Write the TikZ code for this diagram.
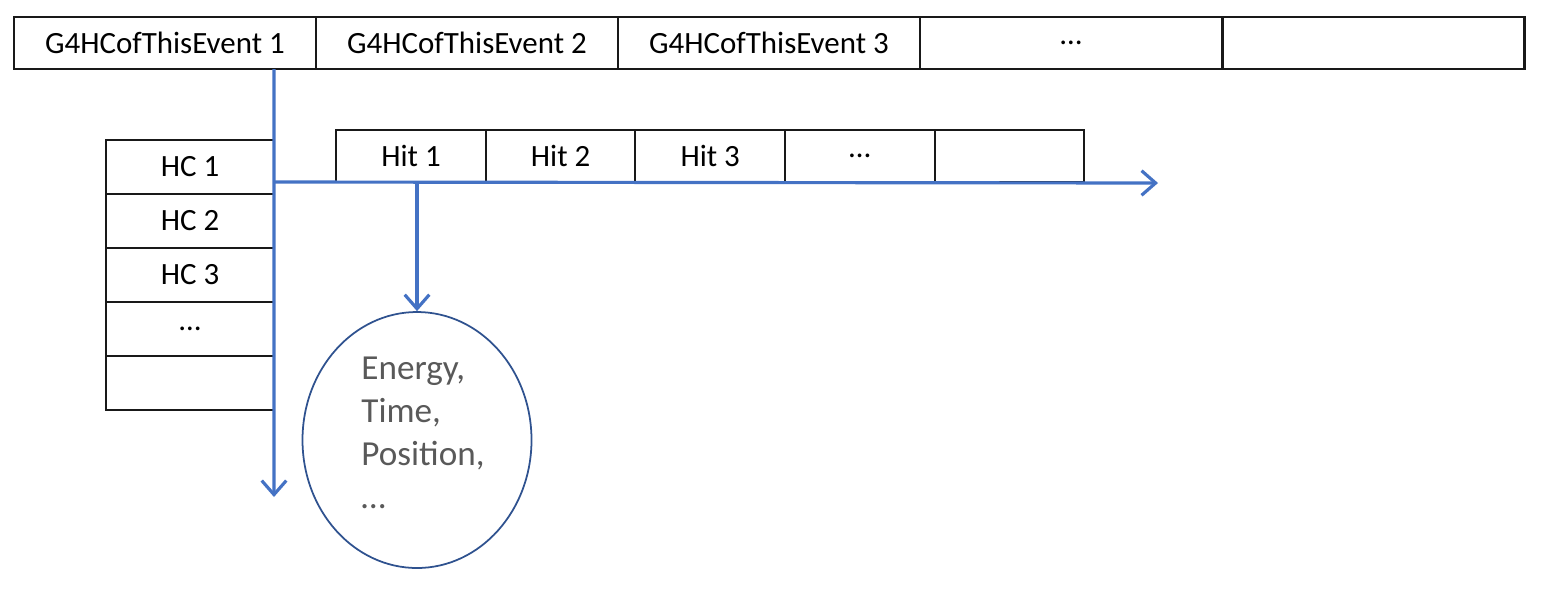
\documentclass[tikz,border=0pt]{standalone}
\usepackage{fontspec}
\setmainfont{Carlito}
\usetikzlibrary{arrows.meta,shapes.geometric,positioning}

\definecolor{arrowblue}{HTML}{4472C4}
\definecolor{rimblue}{HTML}{2F528F}
\definecolor{textgray}{HTML}{595959}

\begin{document}
\begin{tikzpicture}[
    cell/.style={draw=black!90, line width=0.6pt, minimum width=3.02cm, minimum height=0.52cm, inner sep=0pt, outer sep=0pt, font=\fontsize{8.8}{10}\selectfont},
    hccell/.style={cell, minimum width=1.68cm, minimum height=0.54cm},
    hitcell/.style={cell, minimum width=1.496cm, minimum height=0.52cm},
    arr/.style={-{Straight Barb[length=4pt, width=7pt, line width=0.9pt]}, line width=0.9pt, arrowblue}
]
\useasboundingbox (0,0) rectangle (15.51,-5.91);

% events row
\node[cell] (ev1) at (1.65,-0.43) {G4HCofThisEvent 1};
\node[cell] (ev2) at (4.67,-0.43) {G4HCofThisEvent 2};
\node[cell] (ev3) at (7.69,-0.43) {G4HCofThisEvent 3};
\node[cell] (ev4) at (10.71,-0.43) {\dots};
\node[cell] (ev5) at (13.735,-0.43) {};

% hit collections
\node[hccell] (hc1) at (1.90,-1.67) {HC 1};
\node[hccell] (hc2) at (1.90,-2.21) {HC 2};
\node[hccell] (hc3) at (1.90,-2.75) {HC 3};
\node[hccell] (hc4) at (1.90,-3.29) {\dots};
\node[hccell] (hc5) at (1.90,-3.83) {};

% hits
\node[hitcell] (hit1) at (4.11,-1.56) {Hit 1};
\node[hitcell] (hit2) at (5.606,-1.56) {Hit 2};
\node[hitcell] (hit3) at (7.102,-1.56) {Hit 3};
\node[hitcell] (hit4) at (8.598,-1.56) {\dots};
\node[hitcell] (hit5) at (10.094,-1.56) {};

\node[draw=rimblue, line width=0.5pt, ellipse, minimum width=2.29cm, minimum height=2.56cm, inner sep=0pt,
      align=left, text=textgray, font=\fontsize{10}{12.2}\selectfont] (info) at (4.17,-4.40)
      {\hspace*{0.12cm}Energy,\\\hspace*{0.12cm}Time,\\\hspace*{0.12cm}Position,\\\hspace*{0.12cm}\dots\\[-0.28cm]};

\coordinate (hcend) at (2.74,-4.97);
\coordinate (hitend) at (11.58,-1.83);

\draw[arr] (hc1.east |- ev1.south) -- (hcend);
\draw[arr] (hc1.east |- hit1.south) -- (hitend);
\draw[arr] (hit1.south -| info.north) -- (info.north);
\end{tikzpicture}
\end{document}
